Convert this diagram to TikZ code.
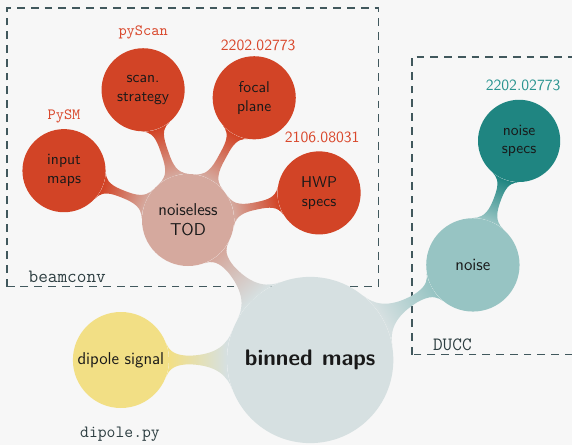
\documentclass[tikz,border=0pt]{standalone}
\usepackage{tikz}
\usetikzlibrary{mindmap}

\definecolor{bgGray}{HTML}{F7F7F7}
\definecolor{rust}{HTML}{D24426}
\definecolor{rustLabel}{HTML}{D9472B}
\definecolor{salmon}{HTML}{D5A99E}
\definecolor{mapBlue}{HTML}{D6E0E1}
\definecolor{dipYellow}{HTML}{F2DF85}
\definecolor{paleTeal}{HTML}{97C4C3}
\definecolor{deepTeal}{HTML}{1F8581}
\definecolor{tealLabel}{HTML}{2A9490}
\definecolor{slate}{HTML}{41585D}

\begin{document}
\begin{tikzpicture}
  \tikzstyle{bubble} = [circle, inner sep=0pt, align=center, text=black!90, font=\sffamily]
  \tikzstyle{leaf} = [bubble, minimum size=1.87cm, fill=rust]
  \tikzstyle{tag} = [font=\sffamily, text=rustLabel]
  \tikzstyle{frame} = [draw=slate, line width=0.85pt, dash pattern=on 5pt off 3.8pt]
  \tikzstyle{code} = [font=\large\ttfamily, text=slate!70!black]

  \fill[bgGray] (0,0) rectangle (12.87,10.01);
  \useasboundingbox (0,0) rectangle (12.87,10.01);

  % the two code boxes
  \draw[frame] (0.16,3.56) rectangle (8.51,9.83);
  \draw[frame] (9.27,2.03) rectangle (13.5,8.73);

  % bubbles
  \path (6.98,1.91) node[bubble, minimum size=3.74cm, fill=mapBlue, font=\sffamily\Large\bfseries] (binned) {binned\hskip 6pt maps}
    +(-4.26,0) node[bubble, minimum size=2.16cm, fill=dipYellow, font=\sffamily\fontsize{11}{13}\selectfont] (dipole) {dipole signal}
    +(-2.75,3.15) node[bubble, minimum size=2.07cm, fill=salmon, font=\sffamily\fontsize{11}{13}\selectfont] (tod) {noiseless\\TOD}
    +(3.66,2.14) node[bubble, minimum size=2.1cm, fill=paleTeal, font=\sffamily\fontsize{11}{13}\selectfont] (noise) {noise}
    +(4.70,4.93) node[bubble, minimum size=1.85cm, fill=deepTeal] (nspecs) {noise\\specs};

  \node[leaf] (input) at (1.44,6.17) {input\\maps};
  \node[leaf] (scan) at (3.22,7.99) {scan.\\strategy};
  \node[leaf] (focal) at (5.72,7.81) {focal\\plane};
  \node[leaf] (hwp) at (7.18,5.67) {HWP\\specs};

  % references above the bubbles
  \node[tag, font=\ttfamily] (pysm) at (1.44,7.40) {PySM};
  \node[tag, font=\ttfamily] (pyscan) at (3.22,9.28) {pyScan};
  \node[tag] (focalref) at (5.81,8.98) {2202.02773};
  \node[tag] (hwpref) at (7.25,6.93) {2106.08031};
  \node[tag, text=tealLabel] (noiseref) at (11.77,8.10) {2202.02773};

  \node[code, anchor=west] (beamconv) at (0.52,3.78) {beamconv};
  \node[code, anchor=west] (ducc) at (9.62,2.25) {DUCC};
  \node[code, font=\ttfamily\fontsize{11}{13}\selectfont] (dipolepy) at (2.70,0.23) {dipole.py};

  % connection bars
  \path (binned) to[circle connection bar switch color=from (mapBlue) to (salmon)] (tod);
  \path (binned) to[circle connection bar switch color=from (mapBlue) to (dipYellow)] (dipole);
  \path (binned) to[circle connection bar switch color=from (mapBlue) to (paleTeal)] (noise);
  \path (noise) to[circle connection bar switch color=from (paleTeal) to (deepTeal)] (nspecs);
  \path (tod) to[circle connection bar switch color=from (salmon) to (rust)] (input);
  \path (tod) to[circle connection bar switch color=from (salmon) to (rust)] (scan);
  \path (tod) to[circle connection bar switch color=from (salmon) to (rust)] (focal);
  \path (tod) to[circle connection bar switch color=from (salmon) to (rust)] (hwp);
\end{tikzpicture}
\end{document}
